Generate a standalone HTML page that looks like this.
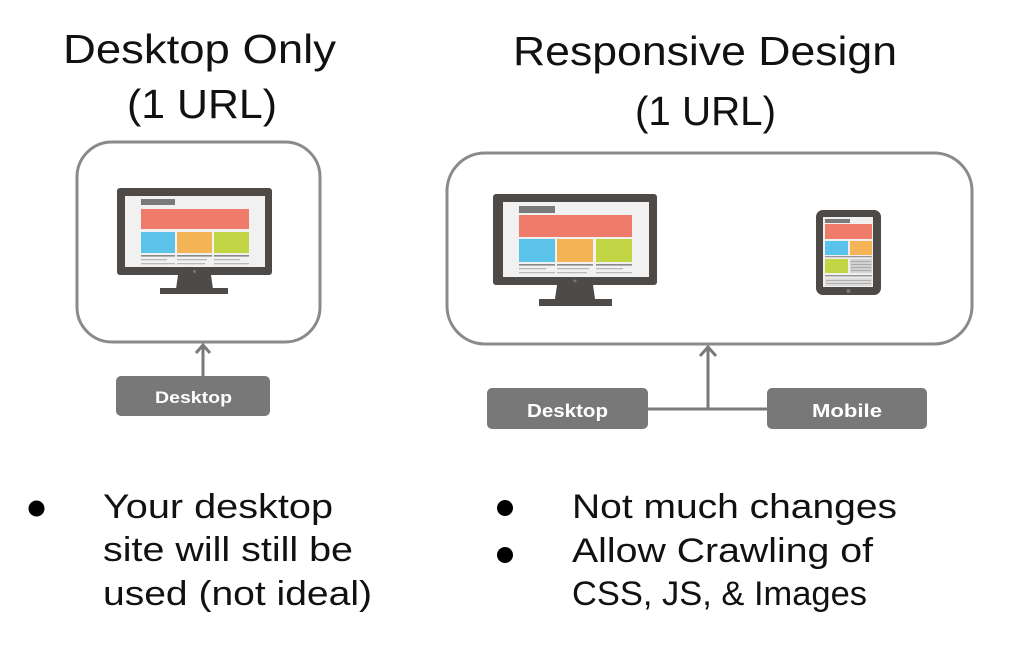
<!DOCTYPE html>
<html>
<head>
<meta charset="utf-8">
<style>
  html, body { margin: 0; padding: 0; background: #fff; }
  svg { display: block; }
  text { font-family: "Liberation Sans", "DejaVu Sans", sans-serif; }
</style>
</head>
<body>
<svg width="1024" height="666" viewBox="0 0 1024 666" xmlns="http://www.w3.org/2000/svg">
  <rect width="1024" height="666" fill="#ffffff"/>

  <!-- Titles -->
  <text x="63" y="63" font-size="41" fill="#111" textLength="273" lengthAdjust="spacingAndGlyphs">Desktop Only</text>
  <text x="127" y="118" font-size="41" fill="#111" textLength="150" lengthAdjust="spacingAndGlyphs">(1 URL)</text>
  <text x="513" y="65" font-size="41" fill="#111" textLength="384" lengthAdjust="spacingAndGlyphs">Responsive Design</text>
  <text x="635" y="125" font-size="41" fill="#111" textLength="141" lengthAdjust="spacingAndGlyphs">(1 URL)</text>

  <!-- Left box -->
  <rect x="77" y="142" width="243" height="200" rx="35" ry="35" fill="#fff" stroke="#8a8a8a" stroke-width="3"/>

  <!-- Left monitor -->
  <g>
    <path d="M178 275 L211 275 L213 289 L176 289 Z" fill="#4d4a47"/>
    <rect x="160" y="288" width="68" height="6" fill="#4d4a47"/>
    <rect x="117" y="188" width="155" height="87" rx="3" fill="#4d4a47"/>
    <rect x="125" y="196" width="140" height="71" fill="#f1f1f1"/>
    <circle cx="194.5" cy="271.5" r="1.5" fill="#777"/>
    <rect x="141" y="199" width="34" height="6" fill="#7a7a7a"/>
    <rect x="141" y="209" width="108" height="20" fill="#ef7b6a"/>
    <rect x="141" y="232" width="34" height="21" fill="#5bc2ea"/>
    <rect x="177" y="232" width="35" height="21" fill="#f4b455"/>
    <rect x="214" y="232" width="35" height="21" fill="#c2d544"/>
    <g fill="#8a8a8a">
      <rect x="141" y="255" width="34" height="1.6"/>
      <rect x="177" y="255" width="35" height="1.6"/>
      <rect x="214" y="255" width="35" height="1.6"/>
    </g>
    <g fill="#b8b8b8">
      <rect x="141" y="259" width="26" height="1.3"/>
      <rect x="177" y="259" width="30" height="1.3"/>
      <rect x="214" y="259" width="26" height="1.3"/>
      <rect x="141" y="263" width="34" height="1.3"/>
      <rect x="177" y="263" width="28" height="1.3"/>
      <rect x="214" y="263" width="35" height="1.3"/>
    </g>
  </g>

  <!-- Left arrow -->
  <line x1="203" y1="345" x2="203" y2="376" stroke="#7a7a7a" stroke-width="3"/>
  <polyline points="196,353 203,345 210,353" fill="none" stroke="#7a7a7a" stroke-width="3"/>

  <!-- Left Desktop button -->
  <rect x="116" y="376" width="154" height="40" rx="5" fill="#787878"/>
  <text x="155" y="403" font-size="17" font-weight="bold" fill="#fff" textLength="77" lengthAdjust="spacingAndGlyphs">Desktop</text>

  <!-- Right box -->
  <rect x="447" y="153" width="525" height="191" rx="38" ry="38" fill="#fff" stroke="#8a8a8a" stroke-width="3"/>

  <!-- Right monitor -->
  <g>
    <path d="M557 285 L593 285 L595 299 L555 299 Z" fill="#4d4a47"/>
    <rect x="539" y="299" width="73" height="7" fill="#4d4a47"/>
    <rect x="493" y="194" width="164" height="91" rx="3" fill="#4d4a47"/>
    <rect x="503" y="202" width="146" height="75" fill="#f1f1f1"/>
    <circle cx="575" cy="281" r="1.5" fill="#777"/>
    <rect x="519" y="206" width="36" height="7" fill="#7a7a7a"/>
    <rect x="519" y="215" width="113" height="22" fill="#ef7b6a"/>
    <rect x="519" y="239" width="36" height="23" fill="#5bc2ea"/>
    <rect x="557" y="239" width="36" height="23" fill="#f4b455"/>
    <rect x="596" y="239" width="36" height="23" fill="#c2d544"/>
    <g fill="#8a8a8a">
      <rect x="519" y="264" width="36" height="1.6"/>
      <rect x="557" y="264" width="36" height="1.6"/>
      <rect x="596" y="264" width="36" height="1.6"/>
    </g>
    <g fill="#b8b8b8">
      <rect x="519" y="268" width="27" height="1.3"/>
      <rect x="557" y="268" width="32" height="1.3"/>
      <rect x="596" y="268" width="27" height="1.3"/>
      <rect x="519" y="272" width="36" height="1.3"/>
      <rect x="557" y="272" width="30" height="1.3"/>
      <rect x="596" y="272" width="36" height="1.3"/>
    </g>
  </g>

  <!-- Tablet -->
  <g>
    <rect x="816" y="210" width="65" height="85" rx="7" fill="#4d4a47"/>
    <rect x="823" y="217" width="50" height="70" fill="#efefef"/>
    <rect x="825" y="219" width="25" height="4" fill="#7a7a7a"/>
    <rect x="825" y="224" width="47" height="15" fill="#ef7b6a"/>
    <rect x="825" y="241" width="23" height="14" fill="#5bc2ea"/>
    <rect x="850" y="241" width="22" height="14" fill="#f4b455"/>
    <rect x="825" y="256" width="47" height="1.3" fill="#999"/>
    <rect x="825" y="259" width="23" height="14" fill="#c2d544"/>
    <rect x="850" y="259" width="22" height="14" fill="#d2d2d2"/>
    <g fill="#aaa">
      <rect x="851" y="261" width="20" height="1"/>
      <rect x="851" y="264" width="20" height="1"/>
      <rect x="851" y="267" width="20" height="1"/>
      <rect x="851" y="270" width="20" height="1"/>
    </g>
    <rect x="825" y="275" width="47" height="1.5" fill="#999"/>
    <rect x="825" y="278" width="47" height="8" fill="#dcdcdc"/>
    <g fill="#b0b0b0">
      <rect x="826" y="280" width="45" height="1"/>
      <rect x="826" y="283" width="45" height="1"/>
    </g>
    <circle cx="848.5" cy="291" r="2" fill="#777"/>
  </g>

  <!-- Right connectors -->
  <line x1="708" y1="346" x2="708" y2="409" stroke="#7a7a7a" stroke-width="3"/>
  <polyline points="700,356 708,347 716,356" fill="none" stroke="#7a7a7a" stroke-width="3"/>
  <line x1="647" y1="409" x2="768" y2="409" stroke="#7a7a7a" stroke-width="3"/>

  <!-- Right buttons -->
  <rect x="487" y="388" width="161" height="41" rx="5" fill="#787878"/>
  <text x="527" y="417" font-size="18" font-weight="bold" fill="#fff" textLength="81" lengthAdjust="spacingAndGlyphs">Desktop</text>
  <rect x="767" y="388" width="160" height="41" rx="5" fill="#787878"/>
  <text x="812" y="417" font-size="18" font-weight="bold" fill="#fff" textLength="70" lengthAdjust="spacingAndGlyphs">Mobile</text>

  <!-- Left bullets -->
  <circle cx="36.5" cy="508.5" r="8" fill="#000"/>
  <text x="103" y="518" font-size="34" fill="#111" textLength="230" lengthAdjust="spacingAndGlyphs">Your desktop</text>
  <text x="103" y="561" font-size="34" fill="#111" textLength="250" lengthAdjust="spacingAndGlyphs">site will still be</text>
  <text x="103" y="605" font-size="34" fill="#111" textLength="269" lengthAdjust="spacingAndGlyphs">used (not ideal)</text>

  <!-- Right bullets -->
  <circle cx="505" cy="508" r="8" fill="#000"/>
  <circle cx="505" cy="555" r="8" fill="#000"/>
  <text x="572" y="518" font-size="34" fill="#111" textLength="325" lengthAdjust="spacingAndGlyphs">Not much changes</text>
  <text x="572" y="562" font-size="34" fill="#111" textLength="301" lengthAdjust="spacingAndGlyphs">Allow Crawling of</text>
  <text x="572" y="605" font-size="34" fill="#111" textLength="295" lengthAdjust="spacingAndGlyphs">CSS, JS, &amp; Images</text>
</svg>
</body>
</html>
